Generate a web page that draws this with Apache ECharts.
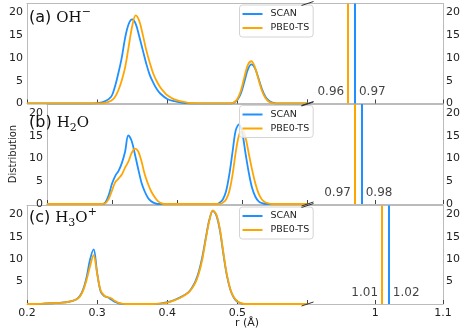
<!DOCTYPE html>
<html>
<head>
<meta charset="utf-8">
<script src="https://cdn.jsdelivr.net/npm/echarts@6/dist/echarts.min.js"></script>
<style>
html, body { margin: 0; padding: 0; background: #fff; }
#chart { width: 463px; height: 330px; }
</style>
</head>
<body>
<div id="chart"></div>
<script>
// O-H distance distributions, [r (Å), distribution]
var scanOH = [[0.2,0],[0.29,0],[0.30,0.1],[0.31,0.4],[0.32,1.5],[0.325,3.5],[0.33,6.5],[0.335,10],[0.34,14.5],[0.345,17.5],[0.35,18.5],[0.355,17.5],[0.36,14.8],[0.365,11.8],[0.37,8.8],[0.375,6.3],[0.38,4.6],[0.385,3.2],[0.39,2.2],[0.40,1.0],[0.41,0.5],[0.42,0.2],[0.43,0.05],[0.44,0],[0.49,0],[0.495,0.2],[0.50,0.8],[0.505,2.2],[0.51,4.8],[0.515,7.5],[0.52,8.6],[0.525,7.8],[0.53,5.6],[0.535,3.2],[0.54,1.5],[0.545,0.6],[0.55,0.2],[0.555,0],[0.6,0]];
var pbeOH = [[0.2,0],[0.30,0],[0.31,0.1],[0.315,0.3],[0.32,0.6],[0.325,1.3],[0.33,2.8],[0.335,5],[0.34,8],[0.345,12.5],[0.35,17],[0.355,19.4],[0.36,18.2],[0.365,15.2],[0.37,11.8],[0.375,9],[0.38,6.6],[0.385,4.9],[0.39,3.6],[0.395,2.6],[0.40,1.8],[0.41,0.9],[0.42,0.45],[0.43,0.15],[0.44,0.05],[0.45,0],[0.49,0],[0.495,0.2],[0.50,1.0],[0.505,2.8],[0.51,5.8],[0.515,8.5],[0.52,9.3],[0.525,8.0],[0.53,5.4],[0.535,2.8],[0.54,1.2],[0.545,0.4],[0.55,0.1],[0.555,0],[0.6,0]];

var scanH2O = [[0.2,0],[0.285,0],[0.29,0.4],[0.295,2.0],[0.30,4.5],[0.305,6.2],[0.31,7.3],[0.315,9.0],[0.32,11.5],[0.325,15.1],[0.33,13.9],[0.335,11.0],[0.34,7.8],[0.345,4.8],[0.35,2.8],[0.355,1.4],[0.36,0.6],[0.365,0.2],[0.37,0],[0.46,0],[0.465,0.3],[0.47,1.0],[0.475,2.8],[0.48,6.5],[0.485,11.5],[0.49,16.3],[0.495,17.5],[0.50,15.5],[0.505,11],[0.51,6.8],[0.515,3.5],[0.52,1.6],[0.525,0.6],[0.53,0.2],[0.535,0],[0.6,0]];
var pbeH2O = [[0.2,0],[0.285,0],[0.29,0.2],[0.295,1.2],[0.30,3.0],[0.305,4.8],[0.31,5.6],[0.315,6.5],[0.32,8.0],[0.325,9.3],[0.33,11.2],[0.335,12.2],[0.34,11.6],[0.345,9.5],[0.35,6.6],[0.355,4.5],[0.36,2.8],[0.365,1.6],[0.37,0.7],[0.375,0.2],[0.38,0],[0.465,0],[0.47,0.3],[0.475,1.0],[0.48,2.8],[0.485,6.5],[0.49,11.5],[0.495,15.2],[0.50,16.2],[0.505,14.5],[0.51,11],[0.515,7.5],[0.52,4.5],[0.525,2.3],[0.53,1.0],[0.535,0.4],[0.54,0.15],[0.545,0],[0.6,0]];

var scanH3O = [[0.2,0],[0.22,0.05],[0.24,0.2],[0.25,0.3],[0.26,0.5],[0.265,0.7],[0.27,1.0],[0.275,1.7],[0.28,3.2],[0.285,6.0],[0.29,10.0],[0.295,12.2],[0.30,7.0],[0.305,2.8],[0.31,1.8],[0.315,1.5],[0.32,1.0],[0.325,0.5],[0.33,0.2],[0.335,0.05],[0.34,0],[0.38,0],[0.39,0.1],[0.40,0.4],[0.41,0.9],[0.42,1.6],[0.43,2.6],[0.435,3.6],[0.44,5.0],[0.445,7.2],[0.45,10.5],[0.455,14.8],[0.46,18.8],[0.465,20.8],[0.47,19.8],[0.475,16.5],[0.48,11.2],[0.485,6.4],[0.49,3.2],[0.495,1.4],[0.50,0.5],[0.505,0.15],[0.51,0],[0.6,0]];
var pbeH3O = [[0.2,0],[0.22,0.05],[0.24,0.2],[0.25,0.3],[0.26,0.5],[0.265,0.7],[0.27,1.0],[0.275,1.6],[0.28,3.0],[0.285,5.4],[0.29,8.5],[0.295,10.9],[0.30,6.8],[0.305,3.0],[0.31,1.9],[0.315,1.5],[0.32,1.3],[0.325,0.7],[0.33,0.3],[0.335,0.1],[0.34,0],[0.38,0],[0.39,0.1],[0.40,0.3],[0.41,0.8],[0.42,1.5],[0.43,2.5],[0.435,3.4],[0.44,4.7],[0.445,6.8],[0.45,10.0],[0.455,14.5],[0.46,18.6],[0.465,20.9],[0.47,20.0],[0.475,16.8],[0.48,11.5],[0.485,6.6],[0.49,3.3],[0.495,1.5],[0.50,0.6],[0.505,0.2],[0.51,0],[0.6,0]];

// mean O-H bond lengths (Å)
var bondScan = [0.97, 0.98, 1.02];
var bondPbe = [0.96, 0.97, 1.01];

var panelTags = ['(a)', '(b)', '(c)'];
var species = ['{m|OH}{sup|\u2212}', '{m|H}{sub|2}{m|O}', '{m|H}{sub|3}{m|O}{sup|+}'];

var BLUE = '#1e90ff', ORANGE = '#ffa500', FRAME = '#bbbbbb', INK = '#222';
var FONT = 'DejaVu Sans';
var LEFT = 27, MID = 307.5, RIGHT = 448;

var rows = [
  { top: 3.5, h: 100, titleTop: 7, scan: scanOH, pbe: pbeOH },
  { top: 104, h: 100, titleTop: 112, scan: scanH2O, pbe: pbeH2O },
  { top: 205.5, h: 98.5, titleTop: 207, scan: scanH3O, pbe: pbeH3O }
];

var chart = echarts.init(document.getElementById('chart'));

var grid = [], xAxis = [], yAxis = [], series = [], legend = [], title = [], graphic = [];

function yFmt(last) {
  return function (v) {
    if (v > 20) return '';
    if (last && v === 0) return '';
    return String(v);
  };
}

rows.forEach(function (r, i) {
  var last = i === rows.length - 1;
  grid.push({ left: LEFT, top: r.top, width: MID - LEFT, height: r.h });
  grid.push({ left: MID, top: r.top, width: RIGHT - MID, height: r.h });

  var xl = {
    type: 'value', gridIndex: 2 * i, min: 0.2, max: 0.6, interval: 0.1, position: 'bottom',
    axisLine: { lineStyle: { color: FRAME } },
    axisTick: { inside: true, length: 4, lineStyle: { color: '#444' } },
    axisLabel: { show: last, fontFamily: FONT, fontSize: 11, color: INK, margin: 4,
      formatter: function (v) { return v > 0.55 ? '' : v.toFixed(1); } },
    splitLine: { show: false }
  };
  var xr = {
    type: 'value', gridIndex: 2 * i + 1, min: 0.9, max: 1.1, interval: 0.1, position: 'bottom',
    axisLine: { lineStyle: { color: FRAME } },
    axisTick: { inside: true, length: 4, lineStyle: { color: '#444' } },
    axisLabel: { show: last, fontFamily: FONT, fontSize: 11, color: INK, margin: 4,
      formatter: function (v) { return v < 0.95 ? '' : (Math.abs(v - 1) < 1e-6 ? '1' : v.toFixed(1)); } },
    splitLine: { show: false }
  };
  function topAxis(g, mn, mx) {
    return { type: 'value', gridIndex: g, min: mn, max: mx, position: 'top',
      axisLine: { show: true, lineStyle: { color: FRAME } },
      axisTick: { show: false }, axisLabel: { show: false }, splitLine: { show: false } };
  }
  xAxis.push(xl, topAxis(2 * i, 0.2, 0.6), xr, topAxis(2 * i + 1, 0.9, 1.1));

  var yl = {
    type: 'value', gridIndex: 2 * i, min: 0, max: 22, interval: 5,
    axisLine: { show: true, lineStyle: { color: FRAME } },
    axisTick: { show: false },
    axisLabel: { fontFamily: FONT, fontSize: 11, color: INK, margin: 4, formatter: yFmt(last) },
    splitLine: { show: false }
  };
  if (i === 1) {
    yl.name = 'Distribution';
    yl.nameLocation = 'middle';
    yl.nameGap = 19;
    yl.nameTextStyle = { fontFamily: FONT, fontSize: 10, color: INK };
  }
  var yr = {
    type: 'value', gridIndex: 2 * i + 1, min: 0, max: 22, interval: 5, position: 'right',
    axisLine: { show: true, lineStyle: { color: FRAME } },
    axisTick: { show: false },
    axisLabel: { fontFamily: FONT, fontSize: 11, color: INK, margin: 3, formatter: yFmt(last) },
    splitLine: { show: false }
  };
  yAxis.push(yl, yr);

  function curve(name, data, color) {
    return {
      name: name, type: 'line', data: data,
      xAxisIndex: 4 * i, yAxisIndex: 2 * i,
      showSymbol: false, smooth: 0.35,
      lineStyle: { color: color, width: 1.8 }, itemStyle: { color: color },
      silent: true, animation: false
    };
  }
  series.push(curve('SCAN', r.scan, BLUE), curve('PBE0-TS', r.pbe, ORANGE));

  function bond(name, val, color, side) {
    return {
      name: name, type: 'scatter', data: [[val, 2.5]],
      xAxisIndex: 4 * i + 2, yAxisIndex: 2 * i + 1,
      symbolSize: 0, silent: true, animation: false,
      itemStyle: { color: color },
      label: { show: true, position: side, distance: 4, fontFamily: FONT, fontSize: 12, color: '#111',
        formatter: function (p) { return p.value[0].toFixed(2); } },
      markLine: { symbol: 'none', silent: true, animation: false, label: { show: false },
        lineStyle: { color: color, width: 2, type: 'solid' }, data: [{ xAxis: val }] }
    };
  }
  series.push(bond('SCAN', bondScan[i], BLUE, 'right'), bond('PBE0-TS', bondPbe[i], ORANGE, 'left'));

  legend.push({
    data: [{ name: 'SCAN', icon: 'rect' }, { name: 'PBE0-TS', icon: 'rect' }],
    orient: 'vertical', left: 239.5, top: r.top + 1.5,
    itemWidth: 20, itemHeight: 2, itemGap: 2,
    textStyle: { fontFamily: FONT, fontSize: 9.5, lineHeight: 12, color: INK, padding: [0, 0, 0, 3] },
    borderColor: '#d4d4d4', borderWidth: 1, borderRadius: 3,
    padding: [3, 4, 3, 3], backgroundColor: 'rgba(255,255,255,0.8)', selectedMode: false
  });

  var norm = { fontWeight: 'normal', color: '#111' };
  title.push({
    text: '{p|' + panelTags[i] + '} ' + species[i],
    left: 29, top: r.titleTop, padding: 0,
    textStyle: {
      fontWeight: 'normal',
      rich: {
        p: Object.assign({ fontFamily: FONT, fontSize: 16, lineHeight: 22 }, norm),
        m: Object.assign({ fontFamily: 'DejaVu Serif', fontSize: 15, lineHeight: 22 }, norm),
        sup: Object.assign({ fontFamily: 'DejaVu Serif', fontSize: 11, lineHeight: 12, verticalAlign: 'top' }, norm),
        sub: Object.assign({ fontFamily: 'DejaVu Serif', fontSize: 11, lineHeight: 12, verticalAlign: 'bottom' }, norm)
      }
    }
  });

  // axis-break marks where the two panels meet
  [r.top, r.top + r.h].forEach(function (y) {
    graphic.push({ type: 'line', silent: true, z: 100,
      shape: { x1: MID - 6, y1: y + 2, x2: MID + 6, y2: y - 2 },
      style: { stroke: '#333', lineWidth: 1 } });
  });
});

graphic.push({ type: 'text', x: 247, y: 323, silent: true,
  style: { text: 'r (\u00c5)', fontFamily: FONT, fontSize: 11, fill: INK, align: 'center', verticalAlign: 'middle' } });

chart.setOption({
  animation: false,
  title: title,
  legend: legend,
  grid: grid,
  xAxis: xAxis,
  yAxis: yAxis,
  series: series,
  graphic: graphic
});
</script>
</body>
</html>
